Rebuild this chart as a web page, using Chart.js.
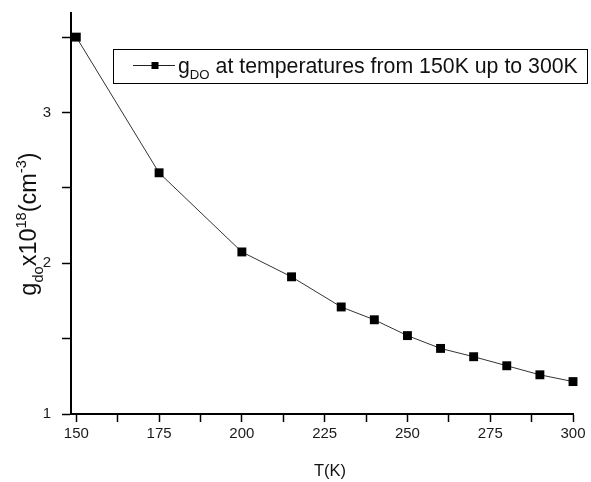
<!DOCTYPE html>
<html>
<head>
<meta charset="utf-8">
<script src="https://cdn.jsdelivr.net/npm/chart.js@4.4.0/dist/chart.umd.min.js"></script>
<style>
html, body { margin: 0; padding: 0; background: #fff; }
#wrap { width: 591px; height: 482px; }
</style>
</head>
<body>
<div id="wrap"><canvas id="gdoChart"></canvas></div>
<script>
// temperature (K) and g_do (x10^18 cm^-3)
const temperatures = [150, 175, 200, 215, 230, 240, 250, 260, 270, 280, 290, 300];
const gdoValues = [3.50, 2.60, 2.075, 1.91, 1.71, 1.625, 1.52, 1.435, 1.38, 1.32, 1.26, 1.215];
const xTickLabels = [150, 175, 200, 225, 250, 275, 300];
const yTickLabels = [1, 2, 3];

const fontFamily = "'Liberation Sans', Arial, sans-serif";

// pieces of rich text: sub / sup
const yTitleParts = [
    { t: 'g' }, { t: 'do', sub: true }, { t: 'x10' }, { t: '18', sup: true },
    { t: '(cm' }, { t: '-3', sup: true }, { t: ')' }
];
const xTitleParts = [{ t: 'T(K)' }];
const legendParts = [
    { t: 'g' }, { t: 'DO', sub: true }, { t: ' at temperatures from 150K up to 300K' }
];

function partFont(p, size) {
    const s = (p.sub || p.sup) ? size * 0.62 : size;
    return s + 'px ' + fontFamily;
}

function richWidth(ctx, parts, size) {
    let w = 0;
    parts.forEach(p => {
        ctx.font = partFont(p, size);
        w += ctx.measureText(p.t).width;
    });
    return w;
}

function drawRich(ctx, parts, x, y, size) {
    let cx = x;
    parts.forEach(p => {
        ctx.font = partFont(p, size);
        let dy = 0;
        if (p.sub) dy = size * 0.3;
        if (p.sup) dy = -size * 0.42;
        ctx.fillText(p.t, cx, y + dy);
        cx += ctx.measureText(p.t).width;
    });
}

const annotations = {
    id: 'annotations',
    afterDraw(chart) {
        const ctx = chart.ctx;
        ctx.save();
        ctx.fillStyle = '#111';
        ctx.textBaseline = 'alphabetic';
        ctx.textAlign = 'left';

        // x title
        const xs = 16.5;
        const xw = richWidth(ctx, xTitleParts, xs);
        drawRich(ctx, xTitleParts, 330 - xw / 2, 476, xs);

        // y title, rotated
        const ys = 23.5;
        const yw = richWidth(ctx, yTitleParts, ys);
        ctx.save();
        ctx.translate(36, 224);
        ctx.rotate(-Math.PI / 2);
        drawRich(ctx, yTitleParts, -yw / 2, 0, ys);
        ctx.restore();

        // legend box
        ctx.strokeStyle = '#000';
        ctx.lineWidth = 1;
        ctx.strokeRect(113.5, 49.5, 474, 34);
        ctx.strokeStyle = '#222';
        ctx.beginPath();
        ctx.moveTo(133, 65.5);
        ctx.lineTo(175, 65.5);
        ctx.stroke();
        ctx.fillStyle = '#000';
        ctx.fillRect(151.5, 62, 7, 7);
        ctx.fillStyle = '#111';
        drawRich(ctx, legendParts, 178, 73, 21.3);
        ctx.restore();
    }
};

new Chart(document.getElementById('gdoChart'), {
    type: 'line',
    data: {
        datasets: [{
            label: 'gDO',
            data: temperatures.map((t, i) => ({ x: t, y: gdoValues[i] })),
            borderColor: '#333',
            borderWidth: 1,
            tension: 0,
            pointStyle: 'rect',
            pointRadius: 6.3,
            pointBackgroundColor: '#000',
            pointBorderWidth: 0,
            clip: false
        }]
    },
    options: {
        responsive: true,
        maintainAspectRatio: false,
        animation: false,
        devicePixelRatio: 1,
        layout: {
            padding: { top: 13, right: 18, left: 0, bottom: 0 }
        },
        plugins: {
            legend: { display: false },
            tooltip: { enabled: false }
        },
        scales: {
            x: {
                type: 'linear',
                min: 148.4,
                max: 300,
                afterFit: scale => {
                    scale.height = 68;
                    scale.paddingLeft = 0;
                    scale.paddingRight = 0;
                },
                ticks: {
                    stepSize: 12.5,
                    includeBounds: false,
                    autoSkip: false,
                    maxRotation: 0,
                    padding: 3,
                    color: '#1a1a1a',
                    font: { family: fontFamily, size: 15 },
                    callback: v => xTickLabels.includes(v) ? String(v) : ''
                },
                grid: {
                    drawOnChartArea: false,
                    drawTicks: true,
                    tickLength: 8,
                    color: '#000',
                    tickWidth: 1.5
                },
                border: { color: '#000', width: 2 }
            },
            y: {
                min: 1,
                max: 3.66,
                afterFit: scale => {
                    scale.width = 71;
                    scale.paddingTop = 0;
                    scale.paddingBottom = 0;
                },
                ticks: {
                    stepSize: 0.5,
                    includeBounds: false,
                    padding: 11,
                    color: '#1a1a1a',
                    font: { family: fontFamily, size: 15 },
                    callback: v => yTickLabels.includes(v) ? String(v) : ''
                },
                grid: {
                    drawOnChartArea: false,
                    drawTicks: true,
                    tickLength: 9,
                    color: '#000',
                    tickWidth: 1.5
                },
                border: { color: '#000', width: 2 }
            }
        }
    },
    plugins: [annotations]
});
</script>
</body>
</html>
